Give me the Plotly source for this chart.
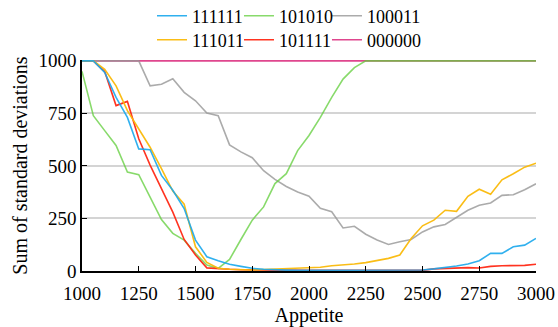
import plotly.graph_objects as go

appetite = list(range(1000, 3001, 50))

s111111 = [1000, 1000, 945, 826, 731, 581, 577, 455, 384, 297, 147, 68, 49, 32, 22, 13, 8, 5, 4, 3,
           3, 3, 3, 3, 3, 3, 3, 3, 4, 4, 5, 10, 16, 24, 33, 49, 84, 84, 115, 123, 155]
s101010 = [950, 739, 668, 597, 471, 458, 352, 245, 179, 147, 84, 28, 13, 55, 150, 242, 305, 416, 463, 573,
           645, 731, 826, 913, 968, 1000, 1000, 1000, 1000, 1000, 1000, 1000, 1000, 1000, 1000, 1000, 1000, 1000, 1000, 1000, 1000]
s100011 = [1000, 1000, 1000, 1000, 1000, 1000, 881, 889, 915, 850, 810, 752, 739, 600, 567, 539, 477, 436, 402, 376,
           356, 298, 282, 205, 213, 175, 148, 126, 139, 150, 186, 210, 221, 254, 289, 313, 324, 360, 363, 387, 415]
s111011 = [1000, 1000, 960, 881, 763, 676, 589, 487, 380, 318, 115, 41, 13, 8, 6, 5, 7, 9, 12, 15,
           17, 18, 25, 28, 33, 40, 49, 60, 76, 155, 215, 242, 289, 284, 355, 389, 365, 434, 463, 494, 513]
s101111 = [1000, 1000, 949, 787, 807, 629, 504, 395, 280, 150, 76, 15, 10, 8, 6, 5, 4, 4, 3, 3,
           3, 3, 3, 3, 3, 3, 3, 3, 3, 3, 3, 10, 12, 15, 16, 14, 22, 25, 25, 27, 32]
s000000 = [1000] * 41

x_ticks = [1000, 1250, 1500, 1750, 2000, 2250, 2500, 2750, 3000]
y_ticks = [0, 250, 500, 750, 1000]

series_names = ["111111", "101010", "100011", "111011", "101111", "000000"]
series_values = [s111111, s101010, s100011, s111011, s101111, s000000]
series_colors = ["rgba(26,167,236,0.9)", "rgba(96,206,58,0.75)", "rgba(150,150,150,0.8)",
                 "rgba(250,185,10,0.95)", "rgba(255,40,20,0.95)", "rgba(220,50,130,0.9)"]
draw_order = ["000000", "100011", "101010", "101111", "111011", "111111"]

font = "Liberation Serif"

# one legend per entry, laid out as a 3 x 2 grid above the plot
col_x = [0.1542, 0.3458, 0.5396]
row_y = [1.2085, 1.0948]
legend_ids = ["legend", "legend2", "legend3", "legend4", "legend5", "legend6"]

fig = go.Figure()
for name in draw_order:
    i = series_names.index(name)
    fig.add_trace(go.Scatter(x=appetite, y=series_values[i], mode="lines", name=name,
                             legend=legend_ids[i],
                             line=dict(color=series_colors[i], width=1.6)))

layout_legends = {}
for i, lid in enumerate(legend_ids):
    layout_legends[lid] = dict(x=col_x[i % 3], y=row_y[i // 3], xanchor="left", yanchor="middle",
                               orientation="v", font=dict(family=font, size=18, color="black"),
                               bgcolor="rgba(0,0,0,0)", borderwidth=0, itemwidth=30)

fig.update_layout(
    width=558, height=327,
    margin=dict(l=82, r=22, t=60, b=56, autoexpand=False),
    plot_bgcolor="white", paper_bgcolor="white",
    font=dict(family=font, size=19, color="black"),
    showlegend=True,
    xaxis=dict(range=[1000, 3000], tickvals=x_ticks,
               showgrid=False, zeroline=False, showline=True, linecolor="black", linewidth=1.5,
               ticks="inside", ticklen=5, tickcolor="black", ticklabelstandoff=4,
               title=dict(text="Appetite", standoff=0, font=dict(size=20)),
               tickfont=dict(family=font, size=19)),
    yaxis=dict(range=[0, 1004], tickvals=y_ticks,
               showgrid=True, gridcolor="#d4d4d4", gridwidth=1.5, zeroline=False,
               showline=True, linecolor="black", linewidth=1.5,
               ticks="inside", ticklen=5, tickcolor="black",
               title=dict(text="Sum of standard deviations", standoff=5, font=dict(size=20)),
               tickfont=dict(family=font, size=19)),
    **layout_legends,
)

fig.write_html("out.html", config={"displayModeBar": False},
               post_script="document.body.style.margin='0';document.body.style.overflow='hidden';")
